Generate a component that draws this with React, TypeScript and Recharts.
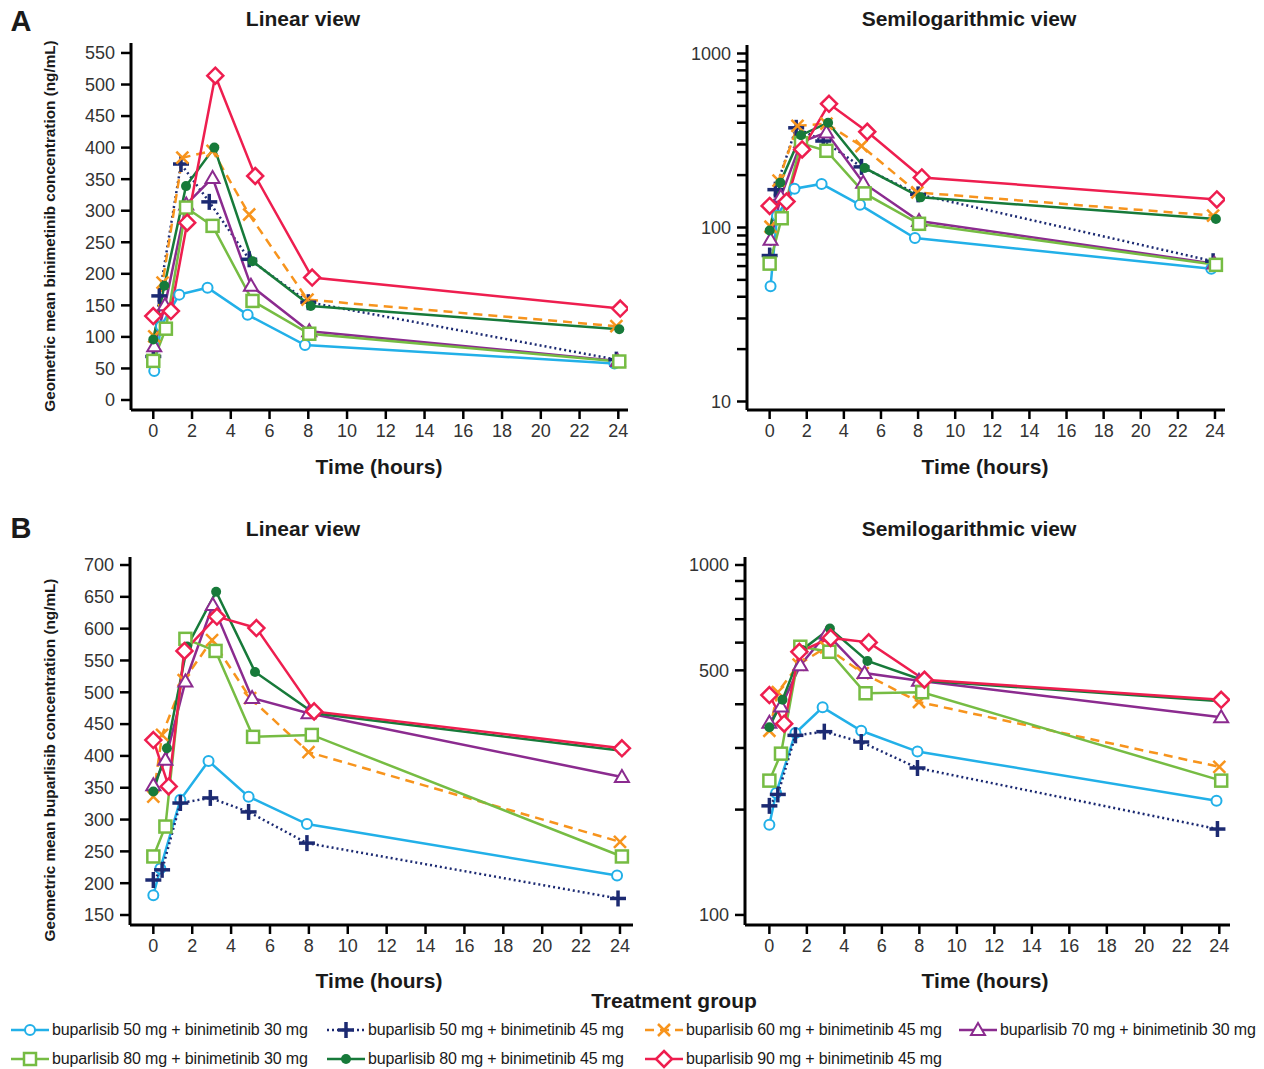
import React from 'react'
import { LineChart, Line, XAxis, YAxis } from 'recharts'

// ticks
const hourTicks = [0, 2, 4, 6, 8, 10, 12, 14, 16, 18, 20, 22, 24]
const binLinearTicks = [0, 50, 100, 150, 200, 250, 300, 350, 400, 450, 500, 550]
const binLogTicks = [10, 20, 30, 40, 50, 60, 70, 80, 90, 100, 200, 300, 400, 500, 600, 700, 800, 900, 1000]
const binLogLabels = [10, 100, 1000]
const bupLinearTicks = [150, 200, 250, 300, 350, 400, 450, 500, 550, 600, 650, 700]
const bupLogTicks = [100, 200, 300, 400, 500, 600, 700, 800, 900, 1000]
const bupLogLabels = [100, 500, 1000]

const groupNames = [
  'buparlisib 50 mg + binimetinib 30 mg',
  'buparlisib 50 mg + binimetinib 45 mg',
  'buparlisib 60 mg + binimetinib 45 mg',
  'buparlisib 70 mg + binimetinib 30 mg',
  'buparlisib 80 mg + binimetinib 30 mg',
  'buparlisib 80 mg + binimetinib 45 mg',
  'buparlisib 90 mg + binimetinib 45 mg',
]

// panel A: binimetinib (hours, ng/mL)
const binT_50_30 = [0.05, 0.4, 1.34, 2.8, 4.87, 7.83, 23.8]
const binC_50_30 = [46, 117, 167, 178, 135, 87, 58]
const binT_50_45 = [0, 0.31, 1.43, 2.89, 4.95, 8.0, 23.9]
const binC_50_45 = [69, 165, 374, 314, 223, 155, 64]
const binT_60_45 = [0.05, 0.48, 1.5, 3.06, 4.95, 7.96, 23.9]
const binC_60_45 = [101, 186, 384, 395, 294, 159, 117]
const binT_70_30 = [0.05, 0.6, 1.7, 3.06, 5.04, 8.05, 23.97]
const binC_70_30 = [85, 150, 310, 352, 181, 109, 62]
const binT_80_30 = [0, 0.65, 1.69, 3.06, 5.12, 8.05, 24.05]
const binC_80_30 = [62, 113, 305, 276, 157, 105, 61]
const binT_80_45 = [0, 0.57, 1.69, 3.15, 5.12, 8.13, 24.05]
const binC_80_45 = [96, 181, 339, 400, 220, 149, 112]
const binT_90_45 = [0, 0.91, 1.75, 3.2, 5.26, 8.2, 24.1]
const binC_90_45 = [133, 141, 281, 514, 355, 194, 145]

// panel B: buparlisib (hours, ng/mL)
const bupT_50_30 = [0, 0.36, 1.39, 2.84, 4.9, 7.9, 23.85]
const bupC_50_30 = [181, 223, 331, 392, 336, 293, 212]
const bupT_50_45 = [0, 0.45, 1.39, 2.93, 4.9, 7.9, 23.9]
const bupC_50_45 = [205, 221, 326, 334, 312, 263, 176]
const bupT_60_45 = [0, 0.45, 1.56, 3.02, 4.98, 7.98, 24]
const bupC_60_45 = [336, 433, 519, 582, 491, 406, 265]
const bupT_70_30 = [0, 0.62, 1.65, 3.06, 5.08, 7.98, 24.1]
const bupC_70_30 = [354, 394, 517, 637, 491, 467, 367]
const bupT_80_30 = [0, 0.62, 1.65, 3.2, 5.13, 8.15, 24.1]
const bupC_80_30 = [242, 289, 584, 565, 430, 433, 242]
const bupT_80_45 = [0, 0.7, 1.74, 3.23, 5.23, 8.27, 24.1]
const bupC_80_45 = [344, 412, 572, 658, 532, 467, 408]
const bupT_90_45 = [0, 0.79, 1.6, 3.27, 5.3, 8.27, 24.1]
const bupC_90_45 = [425, 352, 565, 619, 601, 470, 412]

const styles = [
  { color: '#22b0e8', marker: 'circle' },
  { color: '#1c2a72', marker: 'plus', dash: '2 3' },
  { color: '#f7941d', marker: 'cross', dash: '9 6' },
  { color: '#8b2b8f', marker: 'triangle' },
  { color: '#76bc43', marker: 'square' },
  { color: '#177a3a', marker: 'dot' },
  { color: '#ee1e4f', marker: 'diamond' },
]

const toPoints = (t: number[], c: number[]) => t.map((h, i) => ({ t: h, v: c[i] }))

const binSeries = [
  toPoints(binT_50_30, binC_50_30),
  toPoints(binT_50_45, binC_50_45),
  toPoints(binT_60_45, binC_60_45),
  toPoints(binT_70_30, binC_70_30),
  toPoints(binT_80_30, binC_80_30),
  toPoints(binT_80_45, binC_80_45),
  toPoints(binT_90_45, binC_90_45),
]
const bupSeries = [
  toPoints(bupT_50_30, bupC_50_30),
  toPoints(bupT_50_45, bupC_50_45),
  toPoints(bupT_60_45, bupC_60_45),
  toPoints(bupT_70_30, bupC_70_30),
  toPoints(bupT_80_30, bupC_80_30),
  toPoints(bupT_80_45, bupC_80_45),
  toPoints(bupT_90_45, bupC_90_45),
]

const FONT = '"Liberation Sans", Arial, sans-serif'

function Marker({ kind, color, cx, cy }: { kind: string; color: string; cx: number; cy: number }) {
  switch (kind) {
    case 'circle':
      return <circle cx={cx} cy={cy} r={5} fill="#fff" stroke={color} strokeWidth={2} />
    case 'plus':
      return (
        <g stroke={color} strokeWidth={3.5}>
          <line x1={cx - 8} y1={cy} x2={cx + 8} y2={cy} />
          <line x1={cx} y1={cy - 8} x2={cx} y2={cy + 8} />
        </g>
      )
    case 'cross':
      return (
        <g stroke={color} strokeWidth={2.5}>
          <line x1={cx - 6} y1={cy - 6} x2={cx + 6} y2={cy + 6} />
          <line x1={cx - 6} y1={cy + 6} x2={cx + 6} y2={cy - 6} />
        </g>
      )
    case 'triangle':
      return (
        <polygon
          points={`${cx},${cy - 7} ${cx - 7},${cy + 5} ${cx + 7},${cy + 5}`}
          fill="#fff"
          stroke={color}
          strokeWidth={2}
        />
      )
    case 'square':
      return <rect x={cx - 6} y={cy - 6} width={12} height={12} fill="#fff" stroke={color} strokeWidth={2.5} />
    case 'dot':
      return <circle cx={cx} cy={cy} r={5} fill={color} />
    default:
      return (
        <polygon
          points={`${cx},${cy - 8} ${cx + 8},${cy} ${cx},${cy + 8} ${cx - 8},${cy}`}
          fill="#fff"
          stroke={color}
          strokeWidth={2.5}
        />
      )
  }
}

interface PanelProps {
  left: number
  top: number
  right: number
  bottom: number
  xDomain: [number, number]
  yDomain: [number, number]
  yTicks: number[]
  yLabels?: number[]
  log?: boolean
  series: { t: number; v: number }[][]
  id: string
}

function Panel({ left, top, right, bottom, xDomain, yDomain, yTicks, yLabels, log, series, id }: PanelProps) {
  const yW = 70
  const xH = 40
  const mt = 12
  const mr = 14
  const width = right - left + yW + mr
  const height = bottom - top + xH + mt
  const tick = { fontSize: 18, fill: '#333', fontFamily: FONT }
  return (
    <div style={{ position: 'absolute', left: left - yW, top: top - mt }}>
      <LineChart width={width} height={height} margin={{ top: mt, right: mr, left: 0, bottom: 0 }}>
        <XAxis
          type="number"
          dataKey="t"
          domain={xDomain}
          ticks={hourTicks}
          allowDataOverflow
          height={xH}
          tick={tick}
          tickSize={9}
          tickMargin={5}
          axisLine={{ stroke: '#000', strokeWidth: 3 }}
          tickLine={{ stroke: '#000', strokeWidth: 2.5 }}
        />
        <YAxis
          type="number"
          dataKey="v"
          scale={log ? 'log' : 'linear'}
          domain={yDomain}
          ticks={yTicks}
          allowDataOverflow
          width={yW}
          tick={tick}
          tickSize={10}
          tickMargin={6}
          interval={0}
          tickFormatter={(v: number) => (yLabels && !yLabels.includes(v) ? '' : `${v}`)}
          axisLine={{ stroke: '#000', strokeWidth: 3 }}
          tickLine={{ stroke: '#000', strokeWidth: 2.5 }}
        />
        {series.map((pts, i) => {
          const s = styles[i]
          return (
            <Line
              key={`${id}-${i}`}
              data={pts}
              dataKey="v"
              type="linear"
              stroke={s.color}
              strokeWidth={2.5}
              strokeDasharray={s.dash}
              isAnimationActive={false}
              activeDot={false}
              dot={(p: any) => (
                <Marker key={`${id}-${i}-${p.index}`} kind={s.marker} color={s.color} cx={p.cx} cy={p.cy} />
              )}
            />
          )
        })}
      </LineChart>
    </div>
  )
}

function Text({ x, y, children, size = 21, weight = 700, rotate = false }: any) {
  return (
    <div
      style={{
        position: 'absolute',
        left: x,
        top: y,
        transform: `translate(-50%, -50%)${rotate ? ' rotate(-90deg)' : ''}`,
        fontFamily: FONT,
        fontSize: size,
        fontWeight: weight,
        color: '#1a1a1a',
        whiteSpace: 'nowrap',
      }}
    >
      {children}
    </div>
  )
}

function LegendItem({ x, y, i }: { x: number; y: number; i: number }) {
  const s = styles[i]
  return (
    <div style={{ position: 'absolute', left: x, top: y - 10, height: 20, display: 'flex', alignItems: 'center' }}>
      <svg width={40} height={20}>
        <line x1={1} y1={10} x2={39} y2={10} stroke={s.color} strokeWidth={2.5} strokeDasharray={s.dash} />
        <Marker kind={s.marker} color={s.color} cx={20} cy={10} />
      </svg>
      <span style={{ marginLeft: 2, fontFamily: FONT, fontSize: 16, color: '#1a1a1a', letterSpacing: -0.15 }}>
        {groupNames[i]}
      </span>
    </div>
  )
}

export default function App() {
  const legendPos = [
    [10, 1030],
    [326, 1030],
    [644, 1030],
    [958, 1030],
    [10, 1059],
    [326, 1059],
    [644, 1059],
  ]
  return (
    <div style={{ position: 'absolute', left: 0, top: 0, width: 1264, height: 1069, background: '#fff' }}>
      <Text x={21} y={21} size={29}>A</Text>
      <Text x={21} y={528} size={29}>B</Text>
      <Text x={303} y={19}>Linear view</Text>
      <Text x={969} y={19}>Semilogarithmic view</Text>
      <Text x={303} y={529}>Linear view</Text>
      <Text x={969} y={529}>Semilogarithmic view</Text>
      <Text x={50} y={226} size={15.3} rotate>Geometric mean binimetinib concentration (ng/mL)</Text>
      <Text x={50} y={760} size={15.3} rotate>Geometric mean buparlisib concentration (ng/mL)</Text>
      <Text x={379} y={467}>Time (hours)</Text>
      <Text x={985} y={467}>Time (hours)</Text>
      <Text x={379} y={981}>Time (hours)</Text>
      <Text x={985} y={981}>Time (hours)</Text>
      <Text x={674} y={1001}>Treatment group</Text>

      <Panel
        id="a-lin"
        left={131}
        top={43}
        right={628}
        bottom={410}
        xDomain={[-1.15, 24.5]}
        yDomain={[-15.85, 565.8]}
        yTicks={binLinearTicks}
        series={binSeries}
      />
      <Panel
        id="a-log"
        left={747}
        top={45}
        right={1225}
        bottom={410}
        xDomain={[-1.22, 24.54]}
        yDomain={[8.935, 1119]}
        yTicks={binLogTicks}
        yLabels={binLogLabels}
        log
        series={binSeries}
      />
      <Panel
        id="b-lin"
        left={130}
        top={557}
        right={633}
        bottom={925}
        xDomain={[-1.2, 24.67]}
        yDomain={[134.3, 712.6]}
        yTicks={bupLinearTicks}
        series={bupSeries}
      />
      <Panel
        id="b-log"
        left={745}
        top={557}
        right={1230}
        bottom={925}
        xDomain={[-1.3, 24.57]}
        yDomain={[93.6, 1054]}
        yTicks={bupLogTicks}
        yLabels={bupLogLabels}
        log
        series={bupSeries}
      />

      {legendPos.map(([x, y], i) => (
        <LegendItem key={i} x={x} y={y} i={i} />
      ))}
    </div>
  )
}
